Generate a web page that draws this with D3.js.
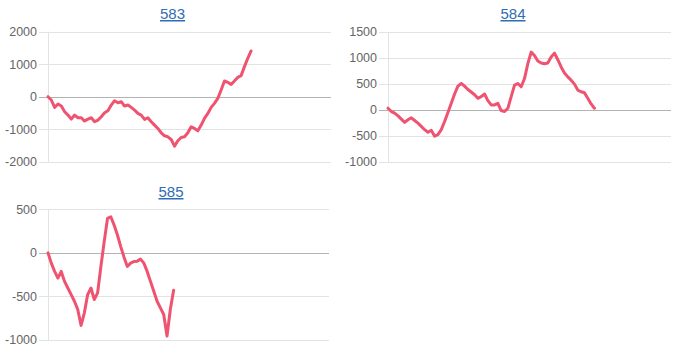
<!DOCTYPE html>
<html>
<head>
<meta charset="utf-8">
<script src="https://cdn.jsdelivr.net/npm/d3@7"></script>
<style>
  body { margin: 0; background: #fff; }
  svg { display: block; font-family: "Liberation Sans", Arial, sans-serif; }
</style>
</head>
<body>
<div id="canvas"></div>
<script>
"use strict";

/* ===============================
   Data */
let titles = ["583", "584", "585"];

let series583 = [0, -103, -329, -226, -288, -463, -565, -689, -565, -648,
  -648, -750, -689, -648, -771, -720, -617, -493, -432, -257,
  -123, -185, -154, -288, -257, -329, -411, -514, -565, -699,
  -648, -771, -874, -977, -1110, -1203, -1234, -1316, -1521, -1357,
  -1254, -1234, -1110, -925, -977, -1049, -874, -668, -514, -329,
  -206, -51, 206, 483, 442, 380, 483, 596, 648, 925,
  1182, 1408];

let series584 = [32, -32, -63, -114, -177, -240, -190, -152, -203, -253,
  -316, -380, -430, -392, -506, -475, -380, -222, -51, 127,
  304, 456, 506, 456, 392, 342, 291, 222, 253, 304,
  177, 95, 95, 127, -13, -32, 32, 253, 475, 506,
  443, 601, 886, 1108, 1044, 937, 899, 886, 899, 1013,
  1089, 962, 823, 709, 633, 570, 494, 380, 348, 329,
  222, 114, 32];

let series585 = [0, -118, -213, -289, -213, -327, -403, -479, -555, -650,
  -832, -688, -479, -403, -536, -460, -156, 129, 395, 414,
  319, 205, 72, -49, -156, -118, -99, -95, -72, -118,
  -213, -327, -441, -555, -631, -707, -954, -650, -429];

let ticks583 = [-2000, -1000, 0, 1000, 2000];
let ticks584 = [-1000, -500, 0, 500, 1000, 1500];
let ticks585 = [-1000, -500, 0, 500];

/* ===============================
   Configuration */
let svgWidth = 679;
let svgHeight = 356;
let xSlots = 85;
let lineColor = "#ef5370";

let svg = d3.select("#canvas")
  .append("svg")
  .attr("width", svgWidth)
  .attr("height", svgHeight);

let panels = [
  { title: titles[0], values: series583, ticks: ticks583, left: 48, right: 331, top: 31.7, bottom: 161.7, titleX: 172.5, titleY: 19 },
  { title: titles[1], values: series584, ticks: ticks584, left: 388, right: 671, top: 31.7, bottom: 162, titleX: 513, titleY: 19 },
  { title: titles[2], values: series585, ticks: ticks585, left: 48, right: 329, top: 209.3, bottom: 340, titleX: 171, titleY: 197 }
];

function drawPanel(p) {
  let g = svg.append("g");
  let yMin = d3.min(p.ticks);
  let yMax = d3.max(p.ticks);

  let xScale = d3.scaleLinear()
    .domain([0, xSlots])
    .range([p.left, p.right]);

  let yScale = d3.scaleLinear()
    .domain([yMin, yMax])
    .range([p.bottom, p.top]);

  /* title, drawn like a link */
  g.append("text")
    .attr("x", p.titleX)
    .attr("y", p.titleY)
    .attr("text-anchor", "middle")
    .attr("font-size", "15px")
    .attr("fill", "#2f6db5")
    .attr("text-decoration", "underline")
    .text(p.title);

  /* grid lines and tick marks */
  g.selectAll("line.grid")
    .data(p.ticks)
    .join("line")
    .attr("class", "grid")
    .attr("x1", p.left - 9)
    .attr("x2", p.right)
    .attr("y1", function (d) { return Math.round(yScale(d)) + 0.5; })
    .attr("y2", function (d) { return Math.round(yScale(d)) + 0.5; })
    .attr("stroke", function (d) { return d === 0 ? "#b3b3b3" : "#e3e3e3"; })
    .attr("stroke-width", 1);

  /* vertical axis line */
  g.append("line")
    .attr("x1", p.left + 0.5)
    .attr("x2", p.left + 0.5)
    .attr("y1", p.top)
    .attr("y2", p.bottom + 1)
    .attr("stroke", "#e3e3e3");

  /* tick labels */
  g.selectAll("text.tick")
    .data(p.ticks)
    .join("text")
    .attr("class", "tick")
    .attr("x", p.left - 11)
    .attr("y", function (d) { return yScale(d); })
    .attr("dy", "0.35em")
    .attr("text-anchor", "end")
    .attr("font-size", "12.5px")
    .attr("fill", "#666")
    .text(function (d) { return String(d); });

  /* the series */
  let line = d3.line()
    .x(function (d, i) { return xScale(i); })
    .y(function (d) { return yScale(d); });

  g.append("path")
    .datum(p.values)
    .attr("d", line)
    .attr("fill", "none")
    .attr("stroke", lineColor)
    .attr("stroke-width", 3)
    .attr("stroke-linejoin", "round")
    .attr("stroke-linecap", "round");
}

for (let i = 0; i < panels.length; i = i + 1) {
  drawPanel(panels[i]);
}
</script>
</body>
</html>
